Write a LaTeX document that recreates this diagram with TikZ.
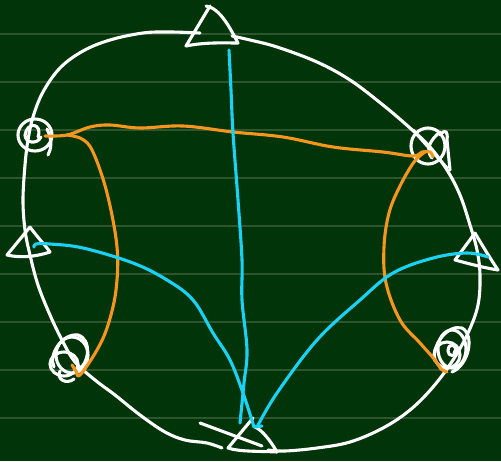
\documentclass[tikz,border=0pt]{standalone}
\usetikzlibrary{calc}
\definecolor{bg}{RGB}{1,52,8}
\definecolor{rulecol}{RGB}{46,86,46}
\definecolor{orng}{RGB}{246,150,30}
\definecolor{cyn}{RGB}{26,210,245}
\begin{document}
\begin{tikzpicture}[x=1pt,y=-1pt, line cap=round, line join=round,
  pen/.style={white, line width=3.1pt},
  orangepen/.style={orng, line width=3.1pt},
  cyanpen/.style={cyn, line width=3.1pt},
  rulepen/.style={rulecol, line width=1.6pt}]
\fill[bg] (0,0) rectangle (501,461);
\useasboundingbox (0,0) rectangle (501,461);
\foreach \y in {34,82,...,418} \draw[rulepen] (0,\y) -- (501,\y);

% marker positions
\coordinate (tA) at (210,6);    % top triangle apex
\coordinate (cL) at (35,135);   % left circle
\coordinate (tL) at (30,227);   % left triangle apex
\coordinate (cBL) at (72,355);  % bottom-left scribble
\coordinate (tB) at (253,418);  % bottom triangle apex
\coordinate (cBR) at (452,349); % bottom-right scribble
\coordinate (tR) at (475,233);  % right triangle apex
\coordinate (cR) at (428,146);  % right circle

% outer loop
\draw[pen] plot[smooth, tension=0.6] coordinates {(200,33) (170,32) (143,33) (110,40) (83,51) (60,68) (43,92) (33,117) (28,140) (25,165) (23,200) (25,230) (30,255) (38,285) (50,315) (62,340) (75,362) (95,380) (115,395) (140,415) (165,432) (185,440) (207,443) (222,448)};
\draw[pen] plot[smooth, tension=0.6] coordinates {(232,36) (250,40) (277,47) (317,62) (350,80) (383,105) (410,128) (430,147) (447,170) (460,195) (470,225) (477,250) (480,275) (478,305) (468,333) (453,360) (433,387) (410,410) (383,428) (350,442) (317,448) (285,451) (268,450)};

% top triangle
\draw[pen] (tA) -- (186,46) .. controls (205,42) and (225,43) .. (238,43) .. controls (230,28) and (220,8) .. (206,6);
% left circle
\draw[pen, shift={(cL)}] (0,0) ellipse (17 and 16);
\draw[pen, shift={(cL)}] (3,2) .. controls (8,-12) and (-8,-14) .. (-10,0) .. controls (-10,8) and (2,10) .. (6,2);
\draw[pen, shift={(cL)}] (12,-6) .. controls (18,6) and (16,14) .. (13,20);
% left triangle
\draw[pen] (tL) -- (7,255) .. controls (20,258) and (35,257) .. (50,252) .. controls (45,245) and (38,238) .. (tL);
% bottom-left scribble
\draw[pen, shift={(cBL)}] (0,0) ellipse (16 and 18);
\draw[pen, shift={(cBL)}] (-8,9) ellipse (14 and 12);
\draw[pen, shift={(cBL)}] (-18,12) .. controls (-24,0) and (-10,-22) .. (6,-20) .. controls (20,-16) and (18,10) .. (4,16);
\draw[pen, shift={(cBL)}] (-12,16) .. controls (-16,24) and (-6,30) .. (2,24);
% bottom triangle
\draw[pen] (tB) -- (228,448) .. controls (240,452) and (260,451) .. (277,452) .. controls (270,440) and (262,430) .. (255,427);
\draw[pen] (200,423) -- (262,446);
% bottom-right scribble
\draw[pen, shift={(cBR)}] (0,0) ellipse (14 and 19);
\draw[pen, shift={(cBR)}] (-5,6) ellipse (13 and 13);
\draw[pen, shift={(cBR)}] (-17,12) .. controls (-21,-4) and (-4,-25) .. (10,-21) .. controls (23,-14) and (17,16) .. (0,23);
\draw[pen, shift={(cBR)}] (2,4) .. controls (8,-4) and (-4,-8) .. (-4,2) .. controls (-4,8) and (4,8) .. (6,2);
% right circle
\draw[pen, shift={(cR)}] (0,0) ellipse (17 and 18);
\draw[pen] (413,130) -- (447,168);
\draw[pen] (440,135) .. controls (446,128) and (448,132) .. (447,140) -- (450,170);
\draw[pen] (440,132) .. controls (430,140) and (425,150) .. (432,158);
% right triangle
\draw[pen] (tR) -- (455,260) .. controls (470,264) and (485,268) .. (498,270) .. controls (490,258) and (482,245) .. (tR);

% orange connections
\draw[orangepen] plot[smooth, tension=0.6] coordinates {(45,136) (67,135) (90,127) (110,125) (140,128) (183,126) (233,132) (283,137) (333,147) (383,152) (413,156) (422,152) (430,152) (433,157)};
\draw[orangepen] plot[smooth, tension=0.6] coordinates {(67,135) (82,139) (93,152) (107,193) (117,247) (116,290) (108,325) (97,350) (80,375) (76,371) (72,365)};
\draw[orangepen] plot[smooth, tension=0.6] coordinates {(425,152) (414,162) (400,186) (389,213) (384,247) (386,283) (400,320) (420,343) (435,360) (441,369) (447,372)};

% cyan connections
\draw[cyanpen] plot[smooth, tension=0.6] coordinates {(229,50) (231,90) (233,133) (238,200) (242,260) (242,300) (247,350) (244,383) (240,423)};
\draw[cyanpen] plot[smooth, tension=0.6] coordinates {(34,247) (36,244) (50,244) (83,248) (133,263) (167,280) (193,300) (213,333) (230,360) (243,393) (254,427)};
\draw[cyanpen] plot[smooth, tension=0.6] coordinates {(257,427) (277,393) (317,340) (360,300) (393,273) (433,258) (467,253) (488,257)};
\draw[cyanpen] (254,427) -- (262,426);
\end{tikzpicture}
\end{document}
